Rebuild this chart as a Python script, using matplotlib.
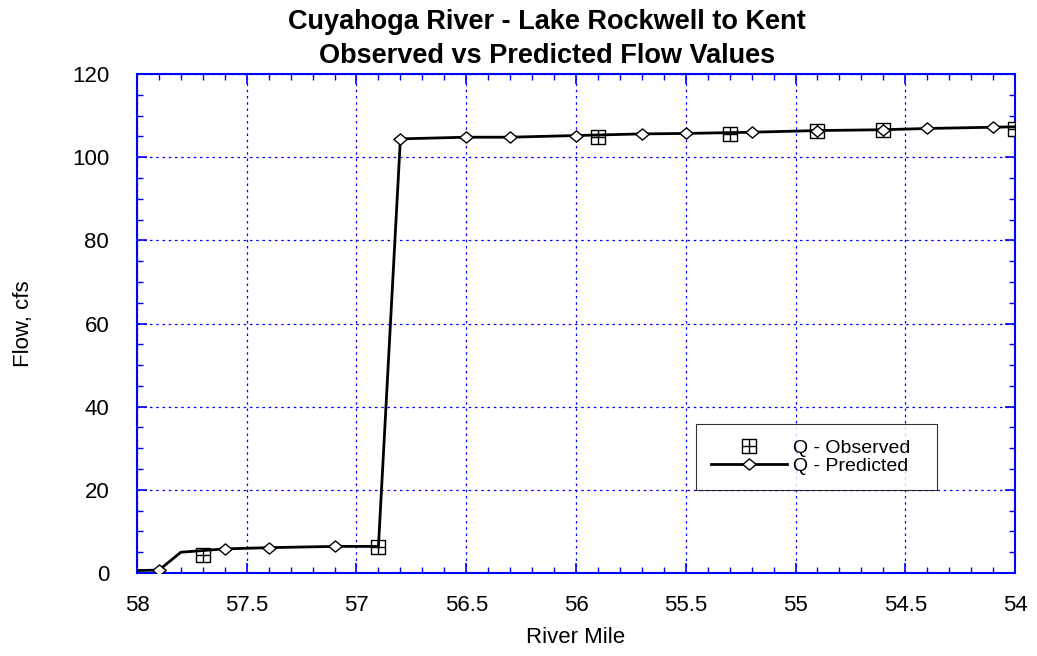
import matplotlib.pyplot as plt
import numpy as np
from matplotlib.path import Path
from matplotlib.ticker import MultipleLocator

plt.rcParams["font.family"] = ["Liberation Sans", "DejaVu Sans"]

# Predicted flow along the reach (river mile, cfs)
pred_mile = [58.0, 57.9, 57.8, 57.6, 57.4, 57.1, 56.9, 56.8, 56.5, 56.3, 56.0,
             55.7, 55.5, 55.2, 54.9, 54.6, 54.4, 54.1, 54.0]
pred_flow = [0.6, 0.7, 5.0, 5.8, 6.1, 6.4, 6.4, 104.4, 104.8, 104.8, 105.2,
             105.6, 105.7, 106.0, 106.4, 106.6, 106.9, 107.2, 107.3]
# points along the line that carry no marker
pred_no_marker = [58.0, 57.8, 56.9, 54.0]

# Observed flow
obs_mile = [57.7, 56.9, 55.9, 55.3, 54.9, 54.6, 54.0]
obs_flow = [4.3, 6.2, 104.9, 105.6, 106.3, 106.5, 106.8]

title_top = "Cuyahoga River - Lake Rockwell to Kent"
title_bottom = "Observed vs Predicted Flow Values"

# square with a cross inside
box_plus = Path(
    [(-1, -1), (1, -1), (1, 1), (-1, 1), (-1, -1),
     (-1, 0), (1, 0), (0, -1), (0, 1)],
    [Path.MOVETO, Path.LINETO, Path.LINETO, Path.LINETO, Path.CLOSEPOLY,
     Path.MOVETO, Path.LINETO, Path.MOVETO, Path.LINETO],
)
# slightly flattened diamond
flat_diamond = Path(
    [(0, 0.85), (1, 0), (0, -0.85), (-1, 0), (0, 0.85)],
    [Path.MOVETO, Path.LINETO, Path.LINETO, Path.LINETO, Path.CLOSEPOLY],
)

fig = plt.figure(figsize=(10.37, 6.56), dpi=100)
ax = fig.add_axes([0.1321, 0.1265, 0.8467, 0.7607])

marked = [i for i, m in enumerate(pred_mile) if m not in pred_no_marker]

ax.plot(obs_mile, obs_flow, linestyle="none", marker=box_plus, markersize=9.5,
        markerfacecolor="white", markeredgecolor="black", markeredgewidth=1.0,
        label="Q - Observed", zorder=3)
ax.plot(pred_mile, pred_flow, color="black", linewidth=2.0,
        marker=flat_diamond, markersize=9.5, markevery=marked,
        markerfacecolor="white", markeredgecolor="black",
        markeredgewidth=1.0, label="Q - Predicted", zorder=4)

ax.set_xlim(58, 54)
ax.set_ylim(0, 120)
ax.xaxis.set_minor_locator(MultipleLocator(0.1))
ax.yaxis.set_major_locator(MultipleLocator(20))
ax.yaxis.set_minor_locator(MultipleLocator(5))
ax.set_xticks(np.arange(54, 58.01, 0.5))
ax.set_xticklabels(["54", "54.5", "55", "55.5", "56", "56.5", "57", "57.5", "58"])

ax.grid(True, which="major", color="#0000ff", linestyle=(0, (2, 3)),
        linewidth=0.9)
ax.tick_params(which="both", direction="in", top=True, right=True,
               color="#0000ff", labelsize=16, labelcolor="black")
ax.tick_params(which="major", length=7, width=1.2)
ax.tick_params(which="minor", length=4, width=1.0)
ax.tick_params(axis="x", which="major", pad=16)
ax.tick_params(axis="y", which="major", pad=20)
for spine in ax.spines.values():
    spine.set_edgecolor("#0000ff")
    spine.set_linewidth(1.5)

ax.set_xlabel("River Mile", fontsize=16)
ax.set_ylabel("Flow, cfs", fontsize=16)
ax.xaxis.set_label_coords(0.5, -0.108)
ax.yaxis.set_label_coords(-0.117, 0.5)

fig.text(0.5275, 0.9558, title_top, fontsize=19.5, fontweight="bold",
         ha="center", va="baseline")
fig.text(0.5275, 0.904, title_bottom, fontsize=19.5, fontweight="bold",
         ha="center", va="baseline")

# legend box stretched to a fixed width
leg = ax.legend(loc="upper left", bbox_to_anchor=(0.671, 0.2561, 0.2324, 0.0976),
                bbox_transform=fig.transFigure, mode="expand", fontsize=14,
                frameon=True, fancybox=False, edgecolor="black",
                handlelength=3.9, borderpad=0.8, labelspacing=0.0,
                handletextpad=0.3, borderaxespad=0)
leg.get_frame().set_linewidth(0.8)

fig.savefig("out.png", dpi=100)
